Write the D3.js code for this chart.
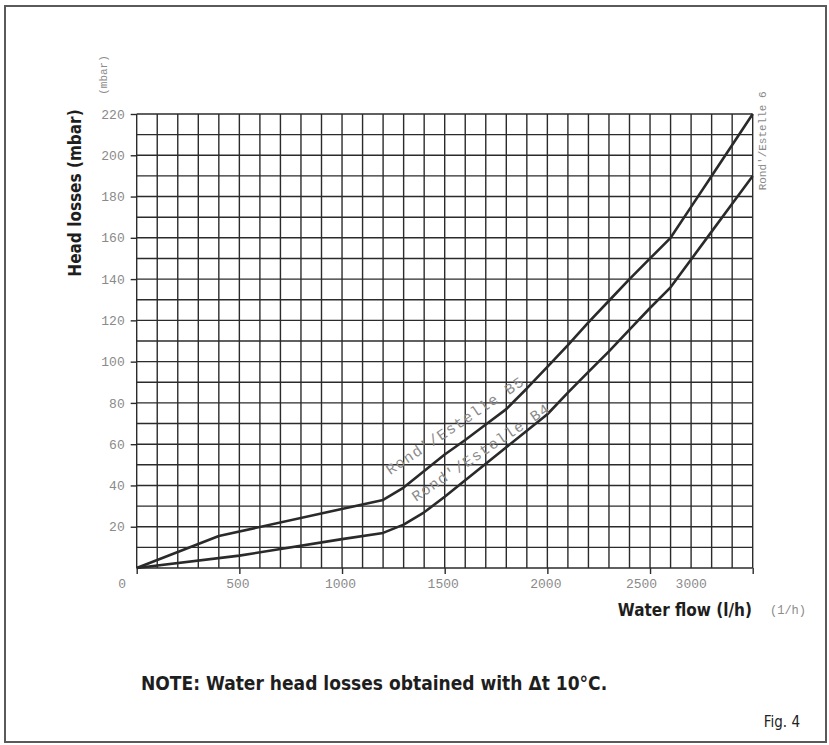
<!DOCTYPE html>
<html>
<head>
<meta charset="utf-8">
<script src="https://cdn.jsdelivr.net/npm/d3@7"></script>
<style>
	body { margin: 0; background: #fff; }
	.grid line { stroke: #2b2b2b; stroke-width: 1.4; }
	.axis path { display: none; }
	.axis line { stroke: #2b2b2b; stroke-width: 1.4; }
	.axis text { font-family: "Liberation Mono", monospace; font-size: 13px; fill: #8a8a8a; }
	.curve { fill: none; stroke: #2a2a2a; stroke-width: 2.6; stroke-linejoin: round; }
	.mono { font-family: "Liberation Mono", monospace; fill: #8a8a8a; }
	.bold { font-family: "DejaVu Sans Condensed", "Liberation Sans Narrow", sans-serif; font-weight: bold; fill: #1e1e1e; }
</style>
</head>
<body>
<script>
// flow values (l/h) and head losses (mbar)
let flowB5 = [0, 400, 1200, 1300, 1400, 1500, 1600, 1700, 1800, 1900, 2000, 2100, 2200, 2300, 2400, 2500, 2600, 2700, 2800, 2900, 3000];
let lossB5 = [0, 15.5, 33, 39, 47, 55, 62, 69.5, 77, 87, 97.5, 108, 119, 129.5, 140, 150, 160, 175, 190, 205, 220];
let flowB4 = [0, 500, 1000, 1200, 1300, 1400, 1500, 1600, 1700, 1800, 1900, 2000, 2100, 2200, 2300, 2400, 2500, 2600, 2700, 2800, 2900, 3000];
let lossB4 = [0, 6, 14, 17, 21, 27, 34.5, 42.5, 50.5, 58.5, 66.5, 74.5, 85, 95, 105, 115.5, 126, 136, 149.5, 163, 176.5, 190];
let xTicks = [0, 500, 1000, 1500, 2000, 2500, 3000];
let yTicks = [20, 40, 60, 80, 100, 120, 140, 160, 180, 200, 220];

let W = 829, H = 745;
let plot = {left: 136.7, right: 752.7, top: 114, bottom: 568};

let xScale = d3.scaleLinear().domain([0, 3000]).range([plot.left, plot.right]);
let yScale = d3.scaleLinear().domain([0, 220]).range([plot.bottom, plot.top]);

let svg = d3.select("body").append("svg")
	.attr("width", W)
	.attr("height", H);

// outer frame
svg.append("rect")
	.attr("x", 5).attr("y", 6)
	.attr("width", 821).attr("height", 736)
	.attr("fill", "none")
	.attr("stroke", "#5a5a5a")
	.attr("stroke-width", 2);

// grid, one line every 100 l/h and every 10 mbar
let grid = svg.append("g").attr("class", "grid");
grid.selectAll("line.v")
		.data(d3.range(0, 3001, 100))
	.enter().append("line")
		.attr("x1", function(d) { return xScale(d); })
		.attr("x2", function(d) { return xScale(d); })
		.attr("y1", yScale(0))
		.attr("y2", yScale(220));
grid.selectAll("line.h")
		.data(d3.range(0, 221, 10))
	.enter().append("line")
		.attr("x1", xScale(0))
		.attr("x2", xScale(3000))
		.attr("y1", function(d) { return yScale(d); })
		.attr("y2", function(d) { return yScale(d); });

// x axis
let xAxis = svg.append("g")
	.attr("class", "axis")
	.attr("transform", "translate(0," + plot.bottom + ")")
	.call(d3.axisBottom(xScale).tickValues(xTicks).tickSize(6).tickPadding(5).tickFormat(d3.format("d")));
// the labels in the figure sit a bit off their ticks
xAxis.selectAll(".tick text")
	.attr("dx", function(d) { return d === 0 ? -15 : d === 2500 ? -9 : d === 3000 ? -62 : -2; });

// y axis
svg.append("g")
	.attr("class", "axis")
	.attr("transform", "translate(" + plot.left + ",0)")
	.call(d3.axisLeft(yScale).tickValues(yTicks).tickSize(6).tickPadding(6));

// curves
let line = d3.line()
	.x(function(d) { return xScale(d[0]); })
	.y(function(d) { return yScale(d[1]); });

svg.append("path")
	.attr("class", "curve")
	.attr("d", line(d3.zip(flowB5, lossB5)));
svg.append("path")
	.attr("class", "curve")
	.attr("d", line(d3.zip(flowB4, lossB4)));

// curve labels
svg.append("text")
	.attr("class", "mono")
	.attr("transform", "translate(" + xScale(1235) + "," + yScale(45) + ") rotate(-34)")
	.style("font-size", "15px")
	.style("letter-spacing", "1.2px")
	.text("Rond'/Estelle B5");
svg.append("text")
	.attr("class", "mono")
	.attr("transform", "translate(" + xScale(1360) + "," + yScale(32) + ") rotate(-34)")
	.style("font-size", "15px")
	.style("letter-spacing", "1.2px")
	.text("Rond'/Estelle B4");
svg.append("text")
	.attr("class", "mono")
	.attr("transform", "translate(" + (xScale(3000) + 13) + "," + yScale(183) + ") rotate(-90)")
	.style("font-size", "11px")
	.text("Rond'/Estelle 6");

// axis titles
svg.append("text")
	.attr("class", "bold")
	.attr("transform", "translate(81," + 193 + ") rotate(-90)")
	.attr("text-anchor", "middle")
	.style("font-size", "17px")
	.text("Head losses (mbar)");
svg.append("text")
	.attr("class", "mono")
	.attr("transform", "translate(107,75) rotate(-90)")
	.attr("text-anchor", "middle")
	.style("font-size", "11px")
	.text("(mbar)");

svg.append("text")
	.attr("class", "bold")
	.attr("x", 752).attr("y", 616)
	.attr("text-anchor", "end")
	.style("font-size", "17px")
	.text("Water flow (l/h)");
svg.append("text")
	.attr("class", "mono")
	.attr("x", 770).attr("y", 614)
	.style("font-size", "12px")
	.text("(1/h)");

// note and figure number
svg.append("text")
	.attr("class", "bold")
	.attr("x", 141).attr("y", 690)
	.style("font-size", "19px")
	.text("NOTE: Water head losses obtained with \u0394t 10\u00B0C.");
svg.append("text")
	.attr("x", 800).attr("y", 727)
	.attr("text-anchor", "end")
	.style("font-family", "'DejaVu Sans Condensed', sans-serif")
	.style("font-size", "15px")
	.style("fill", "#222")
	.text("Fig. 4");
</script>
</body>
</html>
